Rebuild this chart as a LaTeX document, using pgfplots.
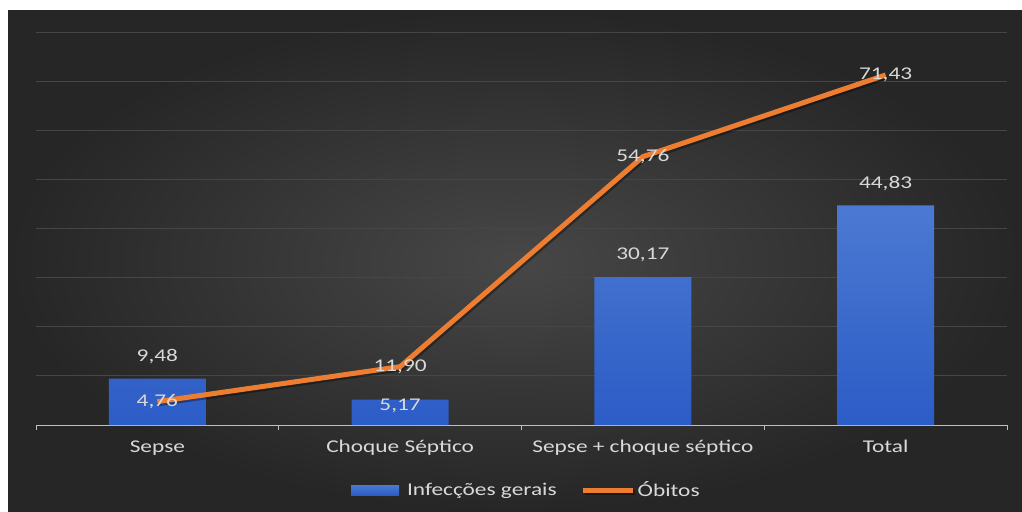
\documentclass[border=0pt]{standalone}
\usepackage{fontspec}
\setmainfont{Carlito}[FakeStretch=1.3]
\usepackage{pgfplots}
\usepackage{pgfplotstable}
\pgfplotsset{compat=1.18}
\definecolor{bginner}{HTML}{474747}
\definecolor{bgouter}{HTML}{262626}
\definecolor{gridc}{HTML}{464646}
\definecolor{axisc}{HTML}{BFBFBF}
\definecolor{txtc}{HTML}{D9D9D9}
\definecolor{bartop}{HTML}{4B79D2}
\definecolor{barbot}{HTML}{2C5CC6}
\definecolor{barc}{HTML}{3A6ACC}
\definecolor{linec}{HTML}{ED7D31}

\pgfplotstableread{
x bar off line
0 9.48 22 4.76
1 5.17 -6 11.90
2 30.17 22 54.76
3 44.83 22 71.43
}\data

\begin{document}
\begin{tikzpicture}
\fill[white] (0,0) rectangle (1022bp,512bp);
\shade[inner color=bginner, outer color=bgouter] (8bp,0) rectangle (1022bp,501bp);
\begin{axis}[
  at={(36bp,87bp)}, anchor=south west,
  scale only axis, width=971bp, height=392bp,
  xmin=-0.5, xmax=3.5, ymin=0, ymax=80,
  clip=false,
  /pgf/number format/assume math mode=true,
  axis lines*=left,
  x axis line style={draw=axisc, line width=1bp},
  y axis line style={draw=none},
  ytick={10,20,...,80}, yticklabels={}, ytick style={draw=none},
  ymajorgrids, major grid style={draw=gridc, line width=1bp},
  xtick={-0.5,0.5,1.5,2.5,3.5}, xticklabels={},
  tick align=outside, major tick length=5bp,
  xtick style={draw=axisc, line width=1bp},
  extra x ticks={0,1,2,3},
  extra x tick labels={Sepse, Choque Séptico, Sepse + choque séptico, Total},
  extra x tick style={major tick length=0pt, xmajorgrids=false},
  xticklabel style={text=txtc, font=\fontsize{18}{20}\selectfont, yshift=-12bp},
  every node near coord/.append style={text=txtc, font=\fontsize{18}{20}\selectfont},
  nodes near coords={\pgfmathprintnumber[fixed,fixed zerofill,precision=2,use comma,assume math mode=true]{\pgfplotspointmeta}},
  legend style={at={(0.505,-0.166)}, anchor=center, draw=none, fill=none,
    text=txtc, font=\fontsize{18}{20}\selectfont, legend columns=2,
    /tikz/every even column/.append style={column sep=22bp}},
]
\addplot[ybar, bar width=0.4, draw=none, shade, top color=bartop, bottom color=barbot,
  visualization depends on={\thisrow{off}\as\off},
  every node near coord/.append style={anchor=center, yshift=\off bp},
  legend image code/.code={\fill[barc] (0bp,-5bp) rectangle (48bp,5bp); \path (54bp,0bp);}]
  table[x=x,y=bar]{\data};
\addlegendentry{Infecções gerais}
\addplot[color=linec, line width=5bp, mark=none,
  preaction={draw=black, opacity=0.35, line width=5bp, transform canvas={xshift=1.5bp,yshift=-2bp}},
  every node near coord/.append style={anchor=center},
  legend image code/.code={\draw[linec, line width=5bp] (0bp,0bp) -- (50bp,0bp);}]
  table[x=x,y=line]{\data};
\addlegendentry{Óbitos}
\end{axis}
\pgfresetboundingbox
\path[use as bounding box] (0,0) rectangle (1022bp,512bp);
\end{tikzpicture}
\end{document}
